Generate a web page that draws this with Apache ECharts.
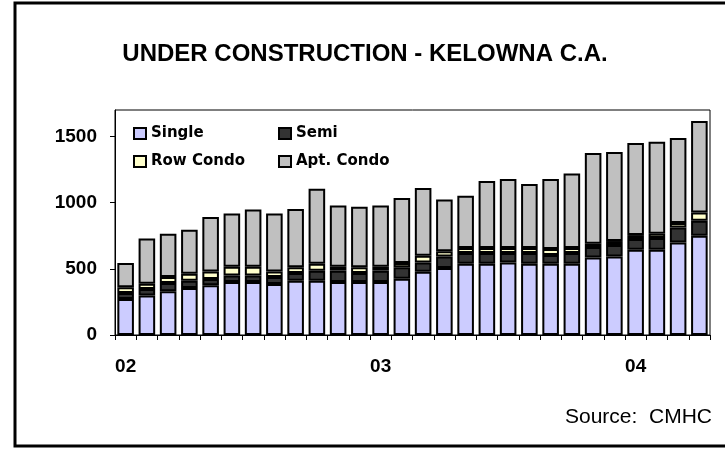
<!DOCTYPE html>
<html>
<head>
<meta charset="utf-8">
<script src="https://cdn.jsdelivr.net/npm/echarts@6/dist/echarts.min.js"></script>
<style>
  html, body { margin: 0; padding: 0; background: #fff; }
  #main { width: 725px; height: 449px; }
</style>
</head>
<body>
<div id="main"></div>
<script>
// months Jan 2002 .. Apr 2004
var months = ['2002-01','2002-02','2002-03','2002-04','2002-05','2002-06','2002-07','2002-08','2002-09','2002-10','2002-11','2002-12',
              '2003-01','2003-02','2003-03','2003-04','2003-05','2003-06','2003-07','2003-08','2003-09','2003-10','2003-11','2003-12',
              '2004-01','2004-02','2004-03','2004-04'];
var single   = [272, 299, 330, 355, 375, 400, 400, 385, 410, 410, 400, 400, 400, 425, 478, 506, 538, 538, 548, 538, 538, 538, 586, 594, 644, 644, 699, 750];
var semi     = [45, 48, 63, 55, 48, 50, 50, 53, 58, 76, 86, 68, 86, 86, 70, 88, 81, 81, 71, 81, 66, 81, 79, 86, 81, 89, 114, 113];
var rowCondo = [43, 40, 45, 53, 57, 66, 66, 42, 43, 52, 30, 43, 30, 33, 51, 38, 38, 38, 38, 38, 46, 38, 25, 30, 30, 32, 33, 63];
var aptCondo = [184, 343, 327, 332, 411, 402, 433, 438, 441, 567, 463, 458, 463, 491, 511, 392, 395, 506, 521, 483, 528, 564, 685, 672, 695, 695, 642, 690];
var yTicks = [0, 500, 1000, 1500];

var myChart = echarts.init(document.getElementById('main'));

function bar(name, data, color) {
    return {
        name: name,
        type: 'bar',
        stack: 'total',
        barCategoryGap: '22%',
        data: data,
        itemStyle: { color: color, borderColor: '#000', borderWidth: 2 }
    };
}

var legendText = { fontFamily: 'DejaVu Sans', fontWeight: 'bold', fontSize: 15, color: '#000' };

var option = {
    animation: false,
    title: {
        text: 'UNDER CONSTRUCTION - KELOWNA C.A.',
        left: 360,
        textAlign: 'center',
        top: 37,
        textStyle: { fontFamily: 'Liberation Sans', fontWeight: 'bold', fontSize: 24, color: '#000' }
    },
    legend: [
        {
            orient: 'vertical',
            left: 128, top: 121,
            icon: 'rect',
            itemWidth: 12, itemHeight: 11, itemGap: 13,
            itemStyle: { borderColor: '#000', borderWidth: 2 },
            data: ['Single', 'Row Condo'],
            textStyle: legendText
        },
        {
            orient: 'vertical',
            left: 273, top: 121,
            icon: 'rect',
            itemWidth: 12, itemHeight: 11, itemGap: 13,
            itemStyle: { borderColor: '#000', borderWidth: 2 },
            data: ['Semi', 'Apt. Condo'],
            textStyle: legendText
        }
    ],
    grid: {
        left: 115, right: 15, top: 110, bottom: 114,
        show: true, borderColor: '#000', borderWidth: 1,
        outerBoundsMode: 'none'
    },
    xAxis: {
        type: 'category',
        data: months,
        axisLine: { lineStyle: { color: '#000', width: 1 } },
        axisTick: { show: true, interval: 0, length: 5, lineStyle: { color: '#000' } },
        axisLabel: {
            interval: 0,
            margin: 22,
            fontFamily: 'Liberation Sans', fontWeight: 'bold', fontSize: 19, color: '#000',
            formatter: function (v) {
                return v.slice(5) === '01' ? v.slice(2, 4) : '';
            }
        }
    },
    yAxis: {
        type: 'value',
        min: 0, max: 1700, interval: 500,
        splitLine: { show: false },
        axisLine: { show: true, lineStyle: { color: '#000', width: 1 } },
        axisTick: { show: true, length: 5, customValues: yTicks, lineStyle: { color: '#000' } },
        axisLabel: {
            margin: 18,
            customValues: yTicks,
            fontFamily: 'Liberation Sans', fontWeight: 'bold', fontSize: 19, color: '#000',
            formatter: function (v) { return String(v); }
        }
    },
    graphic: [
        {
            type: 'rect',
            shape: { x: 15, y: 3, width: 740, height: 443 },
            style: { fill: 'none', stroke: '#000', lineWidth: 3 }
        },
        {
            type: 'text',
            right: 13, top: 407,
            style: { text: 'Source:  CMHC', font: '21px "Liberation Sans"', fill: '#000' }
        }
    ],
    series: [
        bar('Single', single, '#CCCCFF'),
        bar('Semi', semi, '#333333'),
        bar('Row Condo', rowCondo, '#FFFFCC'),
        bar('Apt. Condo', aptCondo, '#C0C0C0')
    ]
};
myChart.setOption(option);
</script>
</body>
</html>
